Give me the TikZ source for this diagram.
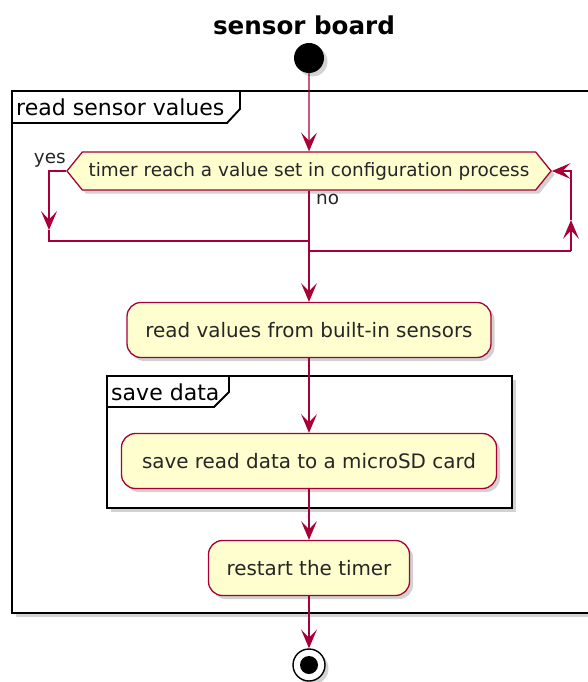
\documentclass[tikz,border=0pt]{standalone}
\usepackage{fontspec}
\setmainfont{DejaVu Sans}
\usetikzlibrary{shapes.geometric, shapes.symbols, arrows.meta, positioning, shadows}
\usepackage{xcolor}

\definecolor{umlred}{HTML}{A80036}
\definecolor{umlfill}{HTML}{FEFECE}

\begin{document}
\begin{tikzpicture}[x=0.03cm, y=-0.03cm,
    shade/.style={drop shadow={shadow xshift=3pt, shadow yshift=-3pt, opacity=0.35}},
    act/.style={draw=umlred, fill=umlfill, line width=1.1pt, rounded corners=0.42cm,
        minimum height=1.65cm, inner sep=0pt, text=black!85,
        font=\fontsize{17}{20}\selectfont, shade},
    cond/.style={shape=signal, signal to=west and east, signal pointer angle=102,
        draw=umlred, fill=umlfill, line width=1.1pt, minimum height=1.14cm, inner xsep=5.4pt,
        text=black!85, font=\fontsize{15.7}{18}\selectfont, shade},
    frame/.style={draw=black, line width=1.9pt, fill=white, shade},
    tabline/.style={draw=black, line width=1.6pt},
    line/.style={draw=umlred, line width=1.1pt},
    flow/.style={line, -{Stealth[length=16pt, width=13.5pt, inset=7pt]}},
    lbl/.style={font=\fontsize{15.7}{18}\selectfont, text=black!85, inner sep=0pt}]

    \useasboundingbox (0,0) rectangle (587,682);
    \def\px{0.03cm}

    % Title
    \node[font=\fontsize{21}{24}\selectfont\bfseries, anchor=base] (title) at (304,35) {sensor board};

    % Frames
    \draw[frame] (12,91) rectangle (600,613);
    \draw[tabline] (12,123) -- (227,123) -- (240,109) -- (240,91);
    \node[font=\fontsize{18.8}{22}\selectfont, anchor=west, inner sep=0pt] (outerlbl) at (16,107) {read sensor values};

    \draw[frame] (107,376) rectangle (512,508);
    \draw[tabline] (107,407) -- (214,407) -- (229,392) -- (229,376);
    \node[font=\fontsize{18.8}{22}\selectfont, anchor=west, inner sep=0pt] (innerlbl) at (111,392) {save data};

    % Start and condition
    \node[circle, fill=black, minimum size=0.9cm, inner sep=0pt, shade] (start) at (309,58) {};
    \node[cond] (test) at (309,171) {timer reach a value set in configuration process};
    \node[lbl, anchor=base east] (yes) at (66,164) {yes};
    \node[lbl, anchor=base west] (no) at (316,205) {no};

    % Activities
    \foreach \n/\y/\w/\t in {read/330/364/read values from built-in sensors,
                             save/461/375/save read data to a microSD card,
                             restart/568/201/restart the timer} {
        \node[act, minimum width=\w*\px] (\n) at (309,\y) {\t};
    }

    % Stop
    \node[circle, draw=black, fill=white, line width=1.2pt, minimum size=0.96cm, inner sep=0pt,
        shade] (stop) at (309,665) {};
    \fill[black] (stop.center) circle (9);

    % Branch points
    \coordinate (yesdown) at (49,230);
    \coordinate (join) at (309,241);
    \coordinate (noturn) at (571,251);
    \coordinate (noup) at (571,220);

    % Connectors
    \draw[flow] (start) -- (test);
    \draw[flow] (test.west) -| (yesdown);
    \draw[line] (yesdown) |- (join);
    \draw[line] (test.south) |- (noturn);
    \draw[flow] (noturn) -- (noup);
    \draw[flow] (noup) |- (test.east);
    \draw[flow] (join) -- (read);
    \draw[flow] (read) -- (save);
    \draw[flow] (save) -- (restart);
    \draw[flow] (restart) -- (stop);
\end{tikzpicture}
\end{document}
